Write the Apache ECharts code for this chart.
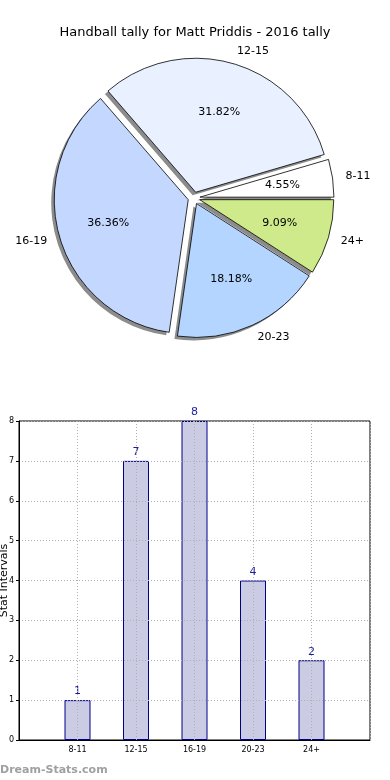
<!DOCTYPE html>
<html>
<head>
<meta charset="utf-8">
<script src="https://cdn.jsdelivr.net/npm/echarts@6/dist/echarts.min.js"></script>
<style>
html,body{margin:0;padding:0;background:#fff;}
#c{width:390px;height:780px;}
</style>
</head>
<body>
<div id="c"></div>
<script>
var titleText = 'Handball tally for Matt Priddis - 2016 tally';
var categories = ['8-11', '12-15', '16-19', '20-23', '24+'];
var counts = [1, 7, 8, 4, 2];
var sliceColors = ['#ffffff', '#e9f0ff', '#c4d8ff', '#b3d5ff', '#cfea8a'];
var yTicks = [0, 1, 2, 3, 4, 5, 6, 7, 8];
var yAxisName = 'Stat Intervals';
var watermark = 'Dream-Stats.com';

var FONT = 'DejaVu Sans';
var pieR = 134;
var pieC = [194, 198];

function pieItems(withColor) {
  return categories.map(function (c, i) {
    var d = { name: c, value: counts[i], selected: true };
    if (withColor) d.itemStyle = { color: sliceColors[i] };
    return d;
  });
}
var barData = categories.map(function (c, i) { return [i + 1, counts[i]]; });

var chart = echarts.init(document.getElementById('c'), null, { renderer: 'canvas' });
chart.setOption({
  animation: false,
  backgroundColor: '#fff',
  title: {
    text: titleText, left: 'center', top: 21,
    textStyle: { fontFamily: FONT, fontSize: 13, fontWeight: 'normal', color: '#000' }
  },
  graphic: [{
    type: 'text', left: 0, top: 765,
    style: { text: watermark, font: 'bold 11px "DejaVu Sans"', fill: '#a0a0a0' }
  }],
  grid: {
    left: 19, right: 20, top: 421, bottom: 40,
    containLabel: false, outerBoundsMode: 'none',
    show: true, borderColor: '#000', borderWidth: 1, backgroundColor: 'transparent'
  },
  xAxis: {
    type: 'value', min: 0, max: 6, interval: 1, z: 5,
    axisLine: { show: true, lineStyle: { color: '#000' } },
    axisTick: { show: false },
    axisLabel: {
      fontFamily: FONT, fontSize: 8, color: '#000', margin: 6,
      formatter: function (v) { return (v >= 1 && v <= categories.length) ? categories[v - 1] : ''; }
    },
    splitLine: { show: true, lineStyle: { color: '#b0b0b0', type: [1, 2], width: 1 } }
  },
  yAxis: {
    type: 'value', min: yTicks[0], max: yTicks[yTicks.length - 1], interval: 1, z: 5,
    name: yAxisName, nameLocation: 'middle', nameRotate: 90, nameGap: 9, nameMoveOverlap: false,
    nameTextStyle: { fontFamily: FONT, fontSize: 11, color: '#000' },
    axisLine: { show: true, lineStyle: { color: '#000' } },
    axisTick: { show: true, length: 3, lineStyle: { color: '#000' } },
    axisLabel: { fontFamily: FONT, fontSize: 8, color: '#000', margin: 5 },
    splitLine: { show: true, lineStyle: { color: '#b0b0b0', type: [1, 2], width: 1 } }
  },
  series: [
    {
      type: 'pie', z: 1, center: [pieC[0] - 3, pieC[1] + 3], radius: [0, pieR],
      startAngle: 0, clockwise: false, avoidLabelOverlap: false, silent: true,
      selectedMode: 'multiple', selectedOffset: 6,
      itemStyle: { color: '#8c8c8c', borderWidth: 0 },
      label: { show: false }, labelLine: { show: false },
      data: pieItems(false)
    },
    {
      type: 'pie', z: 2, center: pieC, radius: [0, pieR],
      startAngle: 0, clockwise: false, avoidLabelOverlap: false,
      selectedMode: 'multiple', selectedOffset: 6,
      emphasis: { disabled: true },
      itemStyle: { borderColor: '#000', borderWidth: 0.8 },
      label: {
        show: true, position: 'outside', formatter: '{b}',
        fontFamily: FONT, fontSize: 11, color: '#000', distanceToLabelLine: 0
      },
      labelLine: { show: false, length: 13, length2: 0 },
      data: pieItems(true)
    },
    {
      type: 'pie', z: 3, center: pieC, radius: [0, pieR * 1.2],
      startAngle: 0, clockwise: false, avoidLabelOverlap: false, silent: true,
      selectedMode: 'multiple', selectedOffset: 6,
      itemStyle: { color: 'transparent', borderWidth: 0 },
      label: {
        show: true, position: 'inner', formatter: '{d}%',
        fontFamily: FONT, fontSize: 11, color: '#000'
      },
      labelLine: { show: false },
      data: pieItems(false)
    },
    {
      type: 'bar', data: barData, barWidth: 26, z: 1,
      itemStyle: { color: '#cbcbe3', borderColor: '#00008b', borderWidth: 1 },
      label: {
        show: true, position: 'top', distance: 3,
        fontFamily: FONT, fontSize: 11, color: '#1c1c9c',
        formatter: function (p) { return p.value[1]; }
      }
    }
  ]
});
</script>
</body>
</html>
